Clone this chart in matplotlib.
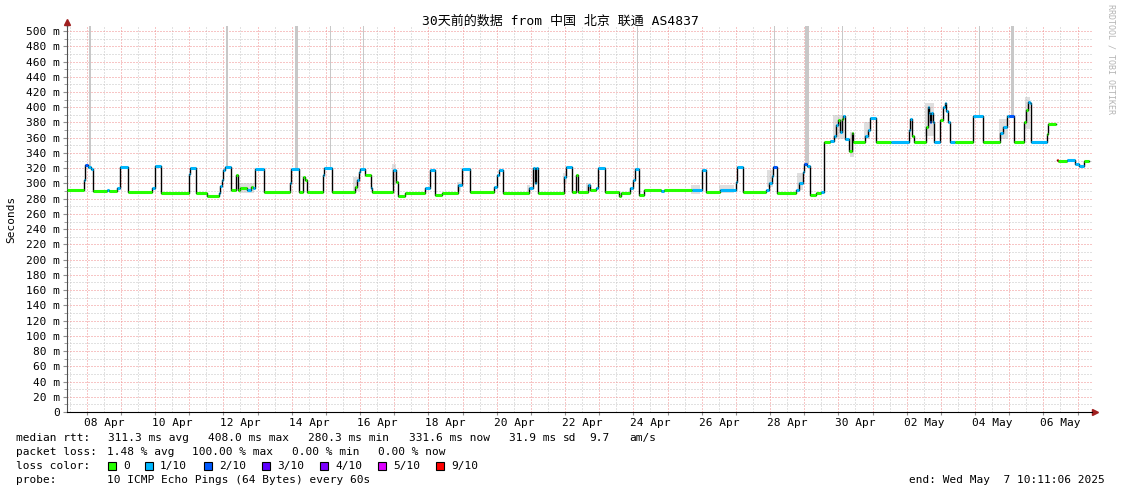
import matplotlib
matplotlib.use("Agg")
import matplotlib.pyplot as plt
from matplotlib.patches import Rectangle
import numpy as np

W, H = 1121, 494

# median rtt steps: time as day of April (07 Apr 00:00 = 7.0), value in ms, loss in /10
t_med = [7.42, 7.93, 7.96, 8.04, 8.12, 8.195, 8.60, 8.66, 8.90, 8.965, 9.20, 9.90, 10.01, 10.18,
         10.985, 11.02, 11.21, 11.52, 11.86, 11.90, 11.95, 12.00, 12.06, 12.23, 12.37, 12.43,
         12.50, 12.70, 12.80, 12.88, 12.93, 13.20,
         13.96, 13.99, 14.20, 14.33, 14.40, 14.45, 14.93, 14.96, 15.19, 15.85, 15.92, 15.97,
         16.01, 16.16, 16.31, 16.36, 16.98, 17.05, 17.11, 17.33, 17.90, 18.05, 18.20, 18.40,
         18.87, 18.99, 19.22,
         19.93, 20.00, 20.08, 20.18, 20.94, 21.06, 21.11, 21.14, 21.20, 21.98, 22.02, 22.20,
         22.32, 22.38, 22.66, 22.74, 22.92, 22.97, 23.18, 23.57, 23.65, 23.91, 24.00, 24.05,
         24.16, 24.30, 24.80, 24.90,
         25.72, 26.01, 26.12, 26.55, 27.00, 27.03, 27.20, 27.88, 27.98, 28.05, 28.09, 28.19,
         28.75, 28.86, 28.96, 29.00, 29.08, 29.18, 29.35, 29.50, 29.59, 29.75, 29.86, 29.93,
         30.00, 30.05, 30.10, 30.14, 30.20, 30.30, 30.40, 30.43, 30.78, 30.86, 30.92, 31.10,
         31.55, 32.06, 32.10, 32.17, 32.20, 32.57, 32.61, 32.64, 32.67, 32.72, 32.76, 32.79,
         32.98, 33.05, 33.11, 33.15, 33.20, 33.28, 33.40, 33.94, 34.22, 34.74, 34.83, 34.93,
         35.00, 35.15, 35.44, 35.50, 35.56, 35.60, 35.65, 36.12, 36.15, 36.36, 36.38,
         36.40, 36.42, 36.70, 36.92, 37.05, 37.18, 37.33]
v_med = [292, 305, 324, 322, 319, 290, 291, 290, 294, 322, 289, 294, 323, 288,
         313, 320, 288, 283, 288, 296, 305, 318, 321, 291, 311, 291,
         294, 292, 295, 294, 319, 289,
         300, 319, 289, 309, 305, 289, 311, 320, 289, 295, 305, 315,
         319, 311, 294, 289, 318, 302, 284, 288, 294, 318, 285, 288,
         298, 319, 289,
         295, 311, 318, 288, 294, 320, 300, 320, 288, 309, 322, 289,
         311, 289, 298, 291, 294, 320, 289, 283, 288, 294, 305, 319,
         285, 291, 290, 291,
         291, 318, 289, 292, 302, 321, 289, 291, 300, 310, 322, 287,
         291, 300, 315, 326, 323, 285, 287, 289, 355, 356, 362, 377,
         383, 368, 385, 388, 358, 342, 366, 355, 362, 370, 386, 355,
         355, 370, 385, 362, 354, 374, 400, 393, 381, 392, 380, 355,
         383, 400, 405, 395, 380, 355, 355, 389, 355, 366, 374, 388,
         389, 355, 381, 396, 407, 405, 354, 365, 378, 378, np.nan,
         331, 330, 331, 326, 323, 330, 330]
loss_med = [0, 1, 2, 1, 1, 0, 1, 0, 1, 1, 0, 1, 1, 0,
            1, 1, 0, 0, 1, 1, 1, 1, 1, 0, 0, 0,
            0, 1, 0, 1, 1, 0,
            1, 1, 0, 0, 0, 0, 1, 1, 0, 0, 1, 1,
            1, 0, 1, 0, 1, 0, 0, 0, 1, 1, 0, 0,
            1, 1, 0,
            1, 1, 1, 0, 1, 1, 1, 1, 0, 1, 1, 0,
            0, 0, 1, 0, 1, 1, 0, 0, 0, 1, 1, 1,
            0, 0, 1, 0,
            1, 1, 0, 1, 1, 1, 0, 1, 1, 1, 2, 0,
            1, 1, 1, 2, 1, 0, 0, 1, 0, 1, 1, 1,
            0, 1, 0, 1, 1, 0, 0, 0, 1, 1, 1, 0,
            1, 1, 1, 0, 0, 0, 1, 1, 2, 1, 1, 1,
            0, 1, 1, 1, 1, 1, 0, 1, 0, 1, 1, 1,
            2, 0, 0, 0, 1, 1, 1, 0, 0, 5, 0,
            9, 0, 1, 1, 1, 0, 0]

# tall grey smoke spikes: time, bottom value, duration (days)
spike_t = [8.10, 12.11, 14.13, 15.15, 16.09, 24.11, 28.14, 29.08, 30.11, 34.12, 35.11]
spike_lo = [323, 320, 319, 320, 319, 319, 322, 326, 385, 389, 389]
spike_w = [0.04, 0.04, 0.09, 0.03, 0.03, 0.03, 0.04, 0.12, 0.03, 0.03, 0.09]

# softer smoke around the busy hours: start, end, low, high
smoke_t0 = [12.45, 15.80, 16.95, 18.85, 20.90, 21.95, 22.60, 25.70, 26.50, 27.90, 28.80,
            29.85, 30.35, 30.75, 32.55, 34.70, 35.45]
smoke_t1 = [12.90, 16.00, 17.06, 18.97, 20.98, 22.05, 22.75, 25.95, 26.95, 28.10, 28.98,
            30.16, 30.46, 30.92, 32.80, 34.98, 35.62]
smoke_lo = [288, 290, 298, 290, 289, 300, 290, 286, 287, 295, 292, 358, 335, 358, 362, 358, 372]
smoke_hi = [300, 308, 326, 302, 298, 314, 300, 298, 298, 318, 314, 390, 368, 380, 405, 384, 414]

loss_colors = {0: "#26ff00", 1: "#00b8ff", 2: "#0059ff", 3: "#5e00ff",
               4: "#7e00ff", 5: "#dd00ff", 9: "#ff0000"}
legend_loss = [0, 1, 2, 3, 4, 5, 9]
legend_text = ["0", "1/10", "2/10", "3/10", "4/10", "5/10", "9/10"]

date_labels = ["08 Apr", "10 Apr", "12 Apr", "14 Apr", "16 Apr", "18 Apr", "20 Apr", "22 Apr",
               "24 Apr", "26 Apr", "28 Apr", "30 Apr", "02 May", "04 May", "06 May"]
label_days = [8.5, 10.5, 12.5, 14.5, 16.5, 18.5, 20.5, 22.5, 24.5, 26.5, 28.5, 30.5, 32.5, 34.5, 36.5]

t_start, t_end = 7.424, 37.424
y_top = 506.6

mono = ["DejaVu Sans Mono", "Noto Sans CJK SC"]
plt.rcParams["font.family"] = mono

fig = plt.figure(figsize=(W / 100, H / 100), dpi=100)
ax = fig.add_axes([67 / W, (H - 412) / H, (1092 - 67) / W, (412 - 26) / H])
ax.set_xlim(t_start, t_end)
ax.set_ylim(0, y_top)

# grid
ax.set_yticks(np.arange(0, 501, 20))
ax.set_yticks(np.arange(10, 501, 20), minor=True)
ax.set_yticklabels(["0" if v == 0 else f"{v} m" for v in range(0, 501, 20)])
ax.set_xticks(np.arange(8, 38, 1))
ax.set_xticklabels([])
noon = np.arange(7.5, 37.0, 1.0)
ax.set_xticks(noon, minor=True)
lab = dict(zip(label_days, date_labels))
ax.set_xticklabels([lab.get(d, "") for d in noon], minor=True)
ax.grid(which="major", color="#f08c8c", ls=(0, (1, 2)), lw=0.72)
ax.grid(which="minor", color="#c4c4c4", ls=(0, (1, 2)), lw=0.72)
ax.set_axisbelow(True)
ax.tick_params(axis="both", which="both", labelsize=8, colors="#909090", labelcolor="black")
ax.tick_params(axis="y", which="major", length=3, pad=2)
ax.tick_params(axis="y", which="minor", length=2)
ax.tick_params(axis="x", which="major", length=2)
ax.tick_params(axis="x", which="minor", length=0, pad=4)
for s in ["top", "right"]:
    ax.spines[s].set_visible(False)
ax.spines["left"].set_color("#505050")
ax.spines["bottom"].set_color("black")

# smoke
ax.bar(smoke_t0, [h - l for h, l in zip(smoke_hi, smoke_lo)], bottom=smoke_lo,
       width=[b - a for a, b in zip(smoke_t0, smoke_t1)], align="edge",
       color="#b8b8b8", alpha=0.45, zorder=2, linewidth=0)
ax.bar(spike_t, [y_top - b for b in spike_lo], bottom=spike_lo, width=spike_w,
       color="#c8c8c8", zorder=2, linewidth=0)

# median line with loss colour
t = np.array(t_med)
v = np.array(v_med, dtype=float)
ax.step(t, v, where="post", color="black", lw=1.0, zorder=3)
ok = ~np.isnan(v[:-1])
cols = [loss_colors[l] for l, k in zip(loss_med[:-1], ok) if k]
ax.hlines(v[:-1][ok], t[:-1][ok], t[1:][ok], colors=cols, lw=2.2, zorder=4)

# axis arrows
ax.plot([1.0, 1.003], [0, 0], transform=ax.transAxes, color="black", lw=1, clip_on=False)
ax.plot([1.003], [0], marker=">", ms=4, color="#a02020", transform=ax.transAxes, clip_on=False)
ax.plot([0, 0], [1.0, 1.01], transform=ax.transAxes, color="#505050", lw=1, clip_on=False)
ax.plot([0], [1.01], marker="^", ms=4, color="#a02020", transform=ax.transAxes, clip_on=False)

fig.text(560 / W, 1 - 21 / H, "30天前的数据 from 中国 北京 联通 AS4837", ha="center", va="center",
         fontsize=9.4, family=mono)
fig.text(11 / W, 1 - 219 / H, "Seconds", rotation=90, ha="center", va="center", fontsize=8)
fig.text(1111 / W, 1 - 59 / H, "RRDTOOL / TOBI OETIKER", rotation=-90, ha="center", va="center",
         fontsize=6, color="#b4b4b4")

cw = 6.69
def put(x, y, s, **kw):
    fig.text(x / W, 1 - y / H, s, va="center", ha="left", fontsize=8, **kw)

put(16, 438, "median rtt:")
for i, s in [(14, "311.3 ms avg"), (29, "408.0 ms max"), (44, "280.3 ms min"),
             (59, "331.6 ms now"), (74, "31.9 ms"), (82, "sd"), (86, "9.7"), (92, "am/s")]:
    put(16 + i * cw - 2, 438, s)
put(16, 452, "packet loss:")
for x, s in [(107, "1.48 % avg"), (192, "100.00 % max"), (292, "0.00 % min"), (378, "0.00 % now")]:
    put(x, 452, s)
put(16, 466, "loss color:")
sq_x = [108, 145, 204, 262, 320, 378, 436]
for x, l, s in zip(sq_x, legend_loss, legend_text):
    fig.add_artist(Rectangle((x / W, 1 - 470 / H), 8 / W, 8 / H, transform=fig.transFigure,
                             fc=loss_colors[l], ec="black", lw=0.8))
    put(x + 15, 466, s)
put(16, 480, "probe:")
put(107, 480, "10 ICMP Echo Pings (64 Bytes) every 60s")
fig.text(1105 / W, 1 - 480 / H, "end: Wed May  7 10:11:06 2025", ha="right", va="center", fontsize=8)

fig.savefig("out.png", dpi=100)
